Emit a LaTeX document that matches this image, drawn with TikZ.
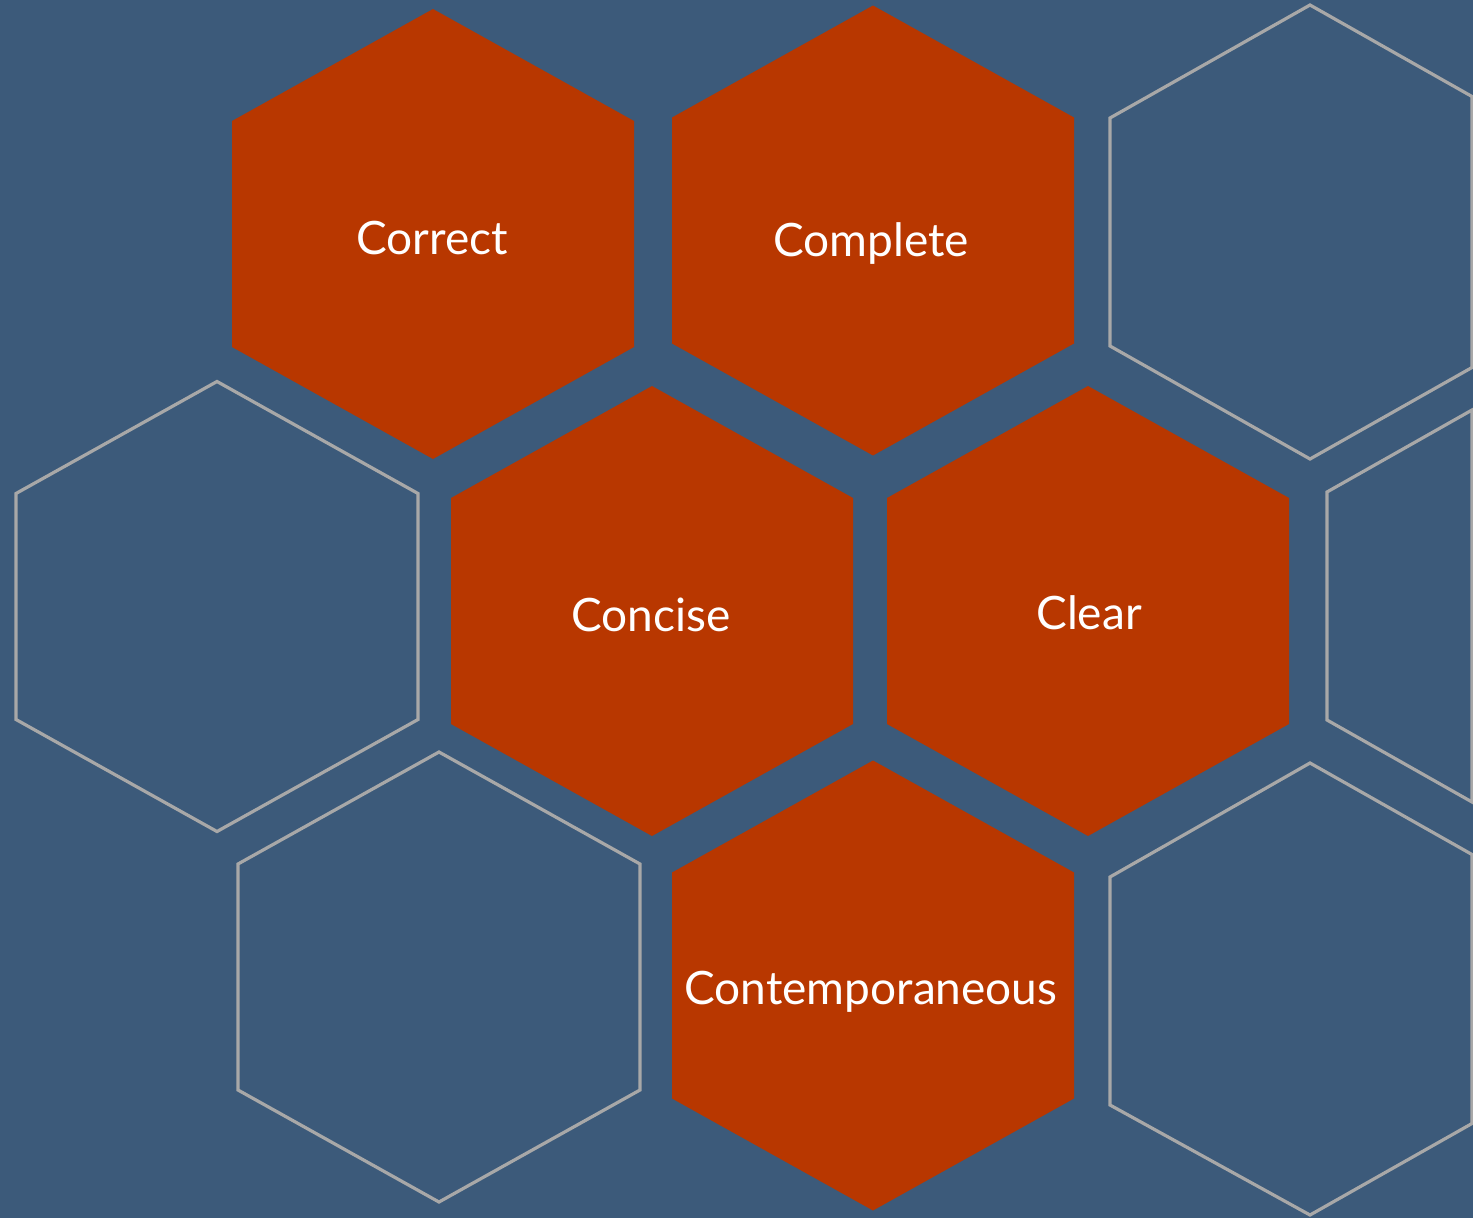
\documentclass[tikz,border=0pt]{standalone}
\usepackage{fontspec}
\setmainfont{Lato}
\definecolor{bgblue}{HTML}{3C5A7A}
\definecolor{cellorange}{HTML}{B83700}
\definecolor{cellline}{HTML}{A8A8A8}
\tikzset{
  hexcell/.pic={
    \path[pic actions] (0,-225) -- (201,-113) -- (201,113) -- (0,225)
      -- (-201,113) -- (-201,-113) -- cycle;
  },
  filledcell/.style={fill=cellorange},
  emptycell/.style={draw=cellline, line width=3.2pt},
  celllabel/.style={text=white, anchor=base, inner sep=0pt,
    font=\fontsize{46}{52}\selectfont},
}
\begin{document}
\begin{tikzpicture}[x=1pt, y=-1pt]
  % canvas
  \fill[bgblue] (0,0) rectangle (1473,1218);
  \useasboundingbox (0,0) rectangle (1473,1218);

  % outlined cells
  \pic[emptycell] at (217,606.5) {hexcell};
  \pic[emptycell] at (439,977) {hexcell};
  % outlined cells cut by the right edge
  \draw[emptycell] (1310,5) -- (1472,96.5) -- (1472,367.5) -- (1310,459)
    -- (1110,346) -- (1110,118) -- cycle;
  \draw[emptycell] (1472,410) -- (1327,492) -- (1327,720) -- (1472,802) -- cycle;
  \draw[emptycell] (1310,763) -- (1472,854.5) -- (1472,1123.5) -- (1310,1215)
    -- (1110,1105) -- (1110,877) -- cycle;

  % filled cells
  \pic[filledcell] at (433,234) {hexcell};
  \pic[filledcell] at (873,230.5) {hexcell};
  \pic[filledcell] at (652,611) {hexcell};
  \pic[filledcell] at (1088,611) {hexcell};
  \pic[filledcell] at (873,985.5) {hexcell};

  % labels
  \node[celllabel] (correct) at (432,254) {Correct};
  \node[celllabel] (complete) at (871,256) {Complete};
  \node[celllabel] (concise) at (651,631) {Concise};
  \node[celllabel] (clear) at (1089,629) {Clear};
  \node[celllabel] (contemporaneous) at (871,1004) {Contemporaneous};
\end{tikzpicture}
\end{document}
